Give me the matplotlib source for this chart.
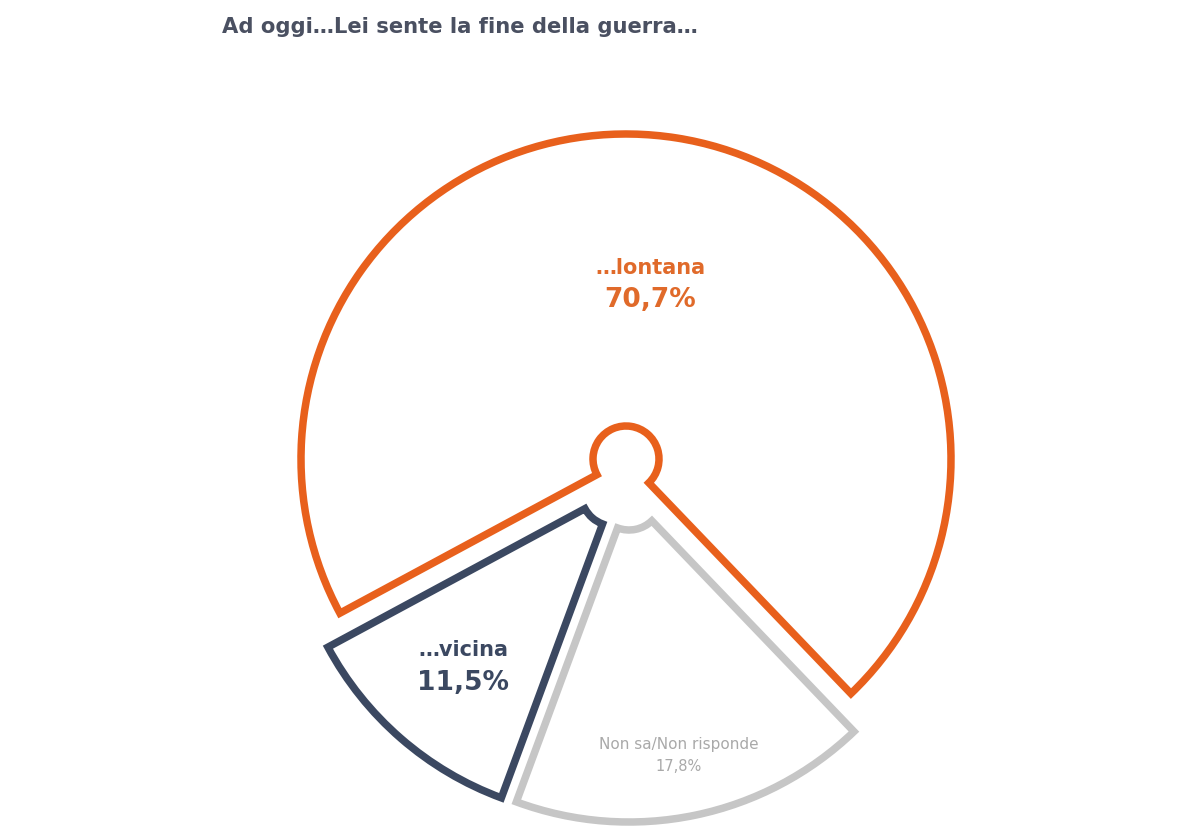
import matplotlib
matplotlib.use("Agg")
import matplotlib.pyplot as plt

# Data
categories = ["…lontana", "…vicina", "Non sa/Non risponde"]
values = [70.7, 11.5, 17.8]
title = "Ad oggi…Lei sente la fine della guerra…"

edge_colors = ["#E8601C", "#3B4861", "#C6C6C6"]
text_colors = ["#E06A2A", "#3B4861", "#A9A9A9"]
# slice displacement (pixels, x right / y up)
shifts = [(0, 0), (-12, -34), (3, -38)]

fig = plt.figure(figsize=(12, 8.29), dpi=100)
ax = fig.add_axes([0, 0, 1, 1])

R = 325
cx, cy = 626, 829 - 460
wedges, _ = ax.pie(
    values,
    startangle=-46.2,
    counterclock=True,
    radius=R,
    center=(cx, cy),
    wedgeprops=dict(width=R - 33, linewidth=5.4, joinstyle="miter"),
)
for w, c, (dx, dy) in zip(wedges, edge_colors, shifts):
    w.set_facecolor("white")
    w.set_edgecolor(c)
    w.set_center((cx + dx, cy + dy))

ax.set_xlim(0, 1200)
ax.set_ylim(0, 829)
ax.set_aspect("equal")
ax.axis("off")

def pct(v):
    return f"{v:.1f}%".replace(".", ",")

# labels
ax.text(650, 829 - 268, categories[0], ha="center", va="center",
        fontsize=15, fontweight="bold", color=text_colors[0])
ax.text(650, 829 - 300, pct(values[0]), ha="center", va="center",
        fontsize=19, fontweight="bold", color=text_colors[0])

ax.text(463, 829 - 650, categories[1], ha="center", va="center",
        fontsize=15, fontweight="bold", color=text_colors[1])
ax.text(463, 829 - 683, pct(values[1]), ha="center", va="center",
        fontsize=19, fontweight="bold", color=text_colors[1])

ax.text(679, 829 - 745, categories[2], ha="center", va="center",
        fontsize=11, color=text_colors[2])
ax.text(679, 829 - 767, pct(values[2]), ha="center", va="center",
        fontsize=10.5, color=text_colors[2])

fig.text(222 / 1200, 1 - 27 / 829, title, ha="left", va="center",
         fontsize=15.2, fontweight="bold", color="#4A5061")

fig.savefig("out.png", dpi=100, facecolor="white")
